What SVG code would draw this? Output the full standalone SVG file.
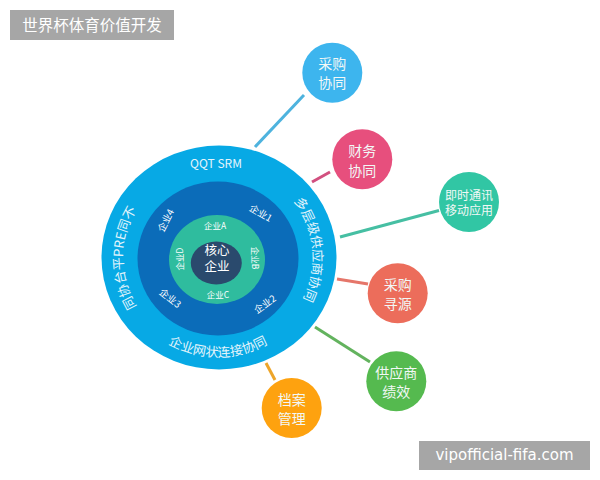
<svg xmlns="http://www.w3.org/2000/svg" xmlns:xlink="http://www.w3.org/1999/xlink" width="600" height="480" viewBox="0 0 600 480">
<style>
text{font-family:"Noto Sans CJK SC","Noto Sans",sans-serif;fill:#fff;text-anchor:middle}
.n{font-size:14px;fill:#f2f8f6}
.s{font-size:12px;fill:#f2f8f6}
.c{stroke-width:3;fill:none}
.r{font-size:13px;fill:#e4f5fc}
.m{font-size:9.5px}
.g{font-size:8.5px}
</style>
<defs>
<path id="pr" d="M218 164A95 94 0 0 1 218 352"/>
<path id="pl" d="M218 352A95 94 0 0 1 218 164"/>
<path id="pb" d="M118 258A100 99 0 0 0 318 258"/>
<path id="pt" d="M148 178A90 100 0 0 1 288 178"/>
</defs>
<rect width="600" height="480" fill="#fff"/>
<g id="connectors">
<line class="c" x1="304" y1="95" x2="255" y2="147" stroke="#4eb3de"/>
<line class="c" x1="330" y1="172" x2="312" y2="182" stroke="#d2507f"/>
<line class="c" x1="439" y1="210.500" x2="340" y2="237" stroke="#46bfa3"/>
<line class="c" x1="368" y1="284" x2="337" y2="279" stroke="#e5766a"/>
<line class="c" x1="370" y1="362" x2="315" y2="327" stroke="#63b35e"/>
<line class="c" x1="275" y1="380" x2="266" y2="363" stroke="#eda52a"/>
</g>
<g id="title"><rect x="10" y="10" width="164" height="30" fill="#a6a6a6"/><text x="92" y="31" style="font-size:15.500px">世界杯体育价值开发</text></g>
<g id="hub">
<ellipse cx="219" cy="257.500" rx="117.500" ry="112" fill="#07a9e5"/>
<ellipse cx="218" cy="258.500" rx="80.500" ry="77" fill="#0b6cb9"/>
<ellipse cx="217" cy="259.500" rx="48" ry="44.500" fill="#2fbc9e"/>
<ellipse cx="216.300" cy="263" rx="25.500" ry="21.500" fill="#2a4a6d"/>
<text x="216" y="168" class="r" style="font-size:12px">QQT SRM</text>
<text class="r"><textPath href="#pr" startOffset="47%">多层级供应商协同</textPath></text>
<text class="r"><textPath href="#pl" startOffset="50%">同协台平PRE同不</textPath></text>
<text class="r"><textPath href="#pb" startOffset="50%">企业网状连接协同</textPath></text>
<text x="217" y="255" style="font-size:12.500px">核心</text>
<text x="217" y="271" style="font-size:12.500px">企业</text>
<text class="m" transform="translate(259 216) rotate(30)">企业1</text>
<text class="m" transform="translate(267 307) rotate(-35)">企业2</text>
<text class="m" transform="translate(168 301) rotate(38)">企业3</text>
<text class="m" transform="translate(169 222) rotate(-63)">企业4</text>
<text class="g" x="215" y="229">企业A</text>
<text class="g" transform="translate(252 258) rotate(90)">企业B</text>
<text class="g" x="218" y="298">企业C</text>
<text class="g" transform="translate(183 259) rotate(-90)">企业D</text>
</g>
<g id="n1"><circle cx="332.300" cy="72.700" r="30" fill="#3db5ee"/><text class="n" x="332.300" y="69">采购</text><text class="n" x="332.300" y="88">协同</text></g>
<g id="n2"><circle cx="362.300" cy="159.300" r="30" fill="#e74f7d"/><text class="n" x="362.300" y="156">财务</text><text class="n" x="362.300" y="176">协同</text></g>
<g id="n3"><circle cx="469" cy="202" r="30" fill="#31c6a4"/><text class="s" x="469" y="200">即时通讯</text><text class="s" x="469" y="215">移动应用</text></g>
<g id="n4"><circle cx="397.700" cy="293.300" r="30" fill="#ec6d5b"/><text class="n" x="397.700" y="290">采购</text><text class="n" x="397.700" y="309">寻源</text></g>
<g id="n5"><circle cx="396.300" cy="381.300" r="30" fill="#55ba4f"/><text class="n" x="396.300" y="378">供应商</text><text class="n" x="396.300" y="397">绩效</text></g>
<g id="n6"><circle cx="291.700" cy="408" r="30" fill="#fea20f"/><text class="n" x="291.700" y="405">档案</text><text class="n" x="291.700" y="424">管理</text></g>
<g id="watermark"><rect x="419" y="441" width="171" height="29" fill="#a6a6a6"/><text x="504.500" y="460" style="font-size:15px;font-family:'DejaVu Sans',sans-serif">vipofficial-fifa.com</text></g>
</svg>
